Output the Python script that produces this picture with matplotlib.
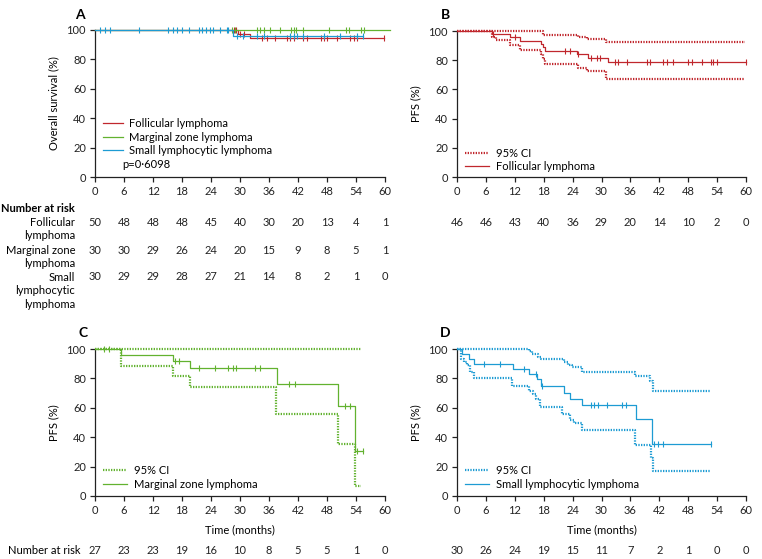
import numpy as np
import matplotlib
matplotlib.use("Agg")
import matplotlib.pyplot as plt

plt.rcParams["font.family"] = ["Lato", "DejaVu Sans"]

W, H = 762, 559
RED, GREEN, BLUE = "#c0272d", "#62b22f", "#1d9bd3"
TICKS = [0, 6, 12, 18, 24, 30, 36, 42, 48, 54, 60]

# --- A: overall survival (event times, survival %, last follow-up, censor times)
os_fl_t = [0, 29.5, 32.0]
os_fl_s = [100, 97.6, 94.6]
os_fl_end = 59.7
os_fl_cens = [28.8, 29.2, 30.1, 30.8, 34.5, 35.6, 37.3, 39.7, 40.4, 41.1, 43.1, 43.8,
              46.7, 47.3, 48.0, 50.0, 52.8, 53.5, 54.2, 59.7]
os_mzl_t = [0]
os_mzl_s = [100]
os_mzl_end = 61.0
os_mzl_cens = [28.3, 29.0, 33.5, 34.2, 34.9, 36.2, 38.3, 40.6, 41.1, 41.6, 43.0, 48.5,
               51.9, 52.6, 55.0, 55.7]
os_sll_t = [0, 28.6]
os_sll_s = [100, 95.6]
os_sll_end = 55.5
os_sll_cens = [1.0, 2.1, 3.0, 9.2, 15.2, 16.1, 17.0, 17.9, 19.5, 21.6, 22.1, 22.9, 23.8,
               24.5, 25.9, 27.3, 27.6, 29.3, 30.7, 33.5, 34.9, 40.4, 41.1, 41.8, 43.1,
               47.3, 50.7, 54.2, 55.5]
risk_groups = ["Follicular\nlymphoma", "Marginal zone\nlymphoma", "Small\nlymphocytic\nlymphoma"]
risk_a_fl = [50, 48, 48, 48, 45, 40, 30, 20, 13, 4, 1]
risk_a_mzl = [30, 30, 29, 26, 24, 20, 15, 9, 8, 5, 1]
risk_a_sll = [30, 29, 29, 28, 27, 21, 14, 8, 2, 1, 0]

# --- B: PFS follicular
pfs_fl_t = [0, 7.2, 11.0, 13.0, 17.4, 17.9, 18.3, 25.0, 27.2, 31.3]
pfs_fl_s = [100, 97.8, 95.6, 93.4, 91.2, 89.0, 86.6, 84.2, 81.8, 78.6]
pfs_fl_end = 60.0
pfs_fl_cens = [7.5, 12.0, 22.4, 23.4, 25.2, 27.9, 29.0, 29.7, 32.8, 33.5, 35.2, 39.4, 40.0,
               42.8, 43.5, 44.9, 48.0, 48.7, 50.8, 52.8, 53.2, 53.9, 60.0]
pfs_fl_hi_t = [0, 17.9, 25.2, 27.0, 31.0]
pfs_fl_hi_s = [100, 97.6, 95.9, 94.2, 92.2]
pfs_fl_lo_t = [0, 7.3, 8.0, 11.0, 13.0, 17.4, 17.9, 18.3, 25.2, 27.0, 31.0]
pfs_fl_lo_s = [100, 96.2, 93.8, 90.4, 86.8, 84.0, 80.6, 77.3, 75.0, 72.4, 67.0]
pfs_fl_ci_end = 59.8
risk_b = [46, 46, 43, 40, 36, 29, 20, 14, 10, 2, 0]

# --- C: PFS marginal zone
pfs_mzl_t = [0, 5.4, 16.2, 19.7, 37.6, 50.3, 53.8]
pfs_mzl_s = [100, 95.6, 91.6, 86.8, 75.9, 60.9, 30.4]
pfs_mzl_end = 55.5
pfs_mzl_cens = [1.9, 2.8, 16.6, 17.4, 21.6, 24.8, 27.6, 28.6, 29.2, 33.1, 34.1, 40.1, 41.4,
                51.7, 52.8, 54.3, 55.5]
pfs_mzl_hi_t = [0]
pfs_mzl_hi_s = [100]
pfs_mzl_lo_t = [0, 5.4, 16.1, 19.7, 37.4, 50.3, 53.7]
pfs_mzl_lo_s = [100, 88.6, 81.4, 73.9, 56.1, 35.7, 6.8]
pfs_mzl_ci_end = 55.0
risk_c = [27, 23, 23, 19, 16, 10, 8, 5, 5, 1, 0]

# --- D: PFS small lymphocytic
pfs_sll_t = [0, 1.0, 2.4, 3.5, 11.7, 14.9, 16.7, 17.4, 22.3, 23.4, 25.9, 37.1, 40.4]
pfs_sll_s = [100, 96.4, 93.2, 89.9, 86.4, 82.9, 79.3, 74.7, 70.3, 66.2, 61.6, 52.3, 35.1]
pfs_sll_end = 52.8
pfs_sll_cens = [5.7, 9.0, 13.9, 16.3, 17.7, 27.9, 28.5, 29.2, 31.1, 34.2, 35.0, 40.9, 41.8,
                42.8, 52.8]
pfs_sll_hi_t = [0, 14.9, 15.6, 16.9, 17.4, 22.3, 23.1, 23.8, 25.9, 36.9, 40.0, 40.6]
pfs_sll_hi_s = [100, 98.4, 96.6, 94.8, 93.2, 90.9, 89.3, 87.5, 84.1, 81.3, 78.4, 71.6]
pfs_sll_lo_t = [0, 0.9, 1.4, 2.0, 2.6, 3.5, 11.5, 14.9, 15.8, 16.5, 17.2, 21.9, 23.4, 24.2,
                25.9, 36.9, 40.2, 40.6]
pfs_sll_lo_s = [100, 93.2, 91.0, 89.3, 84.5, 80.2, 74.5, 71.1, 69.5, 66.0, 60.8, 55.6, 51.5,
                49.9, 44.9, 34.4, 26.0, 17.3]
pfs_sll_ci_end = 52.8
risk_d = [30, 26, 24, 19, 15, 11, 7, 2, 1, 0, 0]

DOT = (0, (0.6, 0.6))
FS = 8
INK = "#222222"


def fx(px):
    return px / W


def fy(py):
    return 1 - py / H


def make_ax(left, top, right, bottom):
    ax = plt.gcf().add_axes([fx(left), fy(bottom), fx(right - left), (bottom - top) / H])
    ax.set_xlim(0, 60)
    ax.set_ylim(0, 100)
    ax.set_xticks(TICKS)
    ax.set_yticks([0, 20, 40, 60, 80, 100])
    for s in ("top", "right"):
        ax.spines[s].set_visible(False)
    for s in ("left", "bottom"):
        ax.spines[s].set_linewidth(0.9)
        ax.spines[s].set_color(INK)
    ax.tick_params(labelsize=FS, length=3.5, width=0.9, pad=3, colors=INK)
    ax.patch.set_visible(False)
    return ax


def km(ax, t, s, end, color, ls="-", lw=0.9, cens=None, label=None, z=3):
    x = list(t) + [end]
    y = list(s) + [s[-1]]
    ax.step(x, y, where="post", color=color, lw=lw, ls=ls, label=label,
            clip_on=False, zorder=z)
    if cens:
        idx = np.searchsorted(t, cens, side="right") - 1
        ax.plot(cens, np.array(s)[idx], ls="none", marker="|", ms=5, mew=0.8,
                color=color, clip_on=False, zorder=z)


def risk_row(ax, values, ypx, top, bottom):
    for xv, v in zip(TICKS, values):
        ax.text(xv, -(ypx - bottom) / (bottom - top), str(v),
                transform=ax.get_xaxis_transform(), ha="center", va="center",
                fontsize=FS, color=INK, clip_on=False)


def legend(ax, y0, hl=2.2):
    ax.legend(loc="lower left", bbox_to_anchor=(0.0, y0), frameon=False, fontsize=FS,
              handlelength=hl, handletextpad=0.6, labelspacing=0.22, borderaxespad=0.3)


fig = plt.figure(figsize=(W / 100, H / 100), dpi=100)

# ---------------- A
axA = make_ax(95, 30, 385, 177)
km(axA, os_fl_t, os_fl_s, os_fl_end, RED, cens=os_fl_cens, label="Follicular lymphoma", z=3)
km(axA, os_mzl_t, os_mzl_s, os_mzl_end, GREEN, cens=os_mzl_cens, label="Marginal zone lymphoma", z=3)
km(axA, os_sll_t, os_sll_s, os_sll_end, BLUE, cens=os_sll_cens, label="Small lymphocytic lymphoma", z=4)
axA.set_ylabel("Overall survival (%)", fontsize=FS, labelpad=5)
legend(axA, 0.09, hl=1.8)
axA.text(0.093, 0.085, "p=0·6098", transform=axA.transAxes, fontsize=FS, va="center")
fig.text(fx(80), fy(15), "A", fontsize=10, fontweight="bold", ha="center", va="center")
fig.text(fx(75), fy(208), "Number at risk", fontsize=FS, fontweight="bold", ha="right", va="center")
for lab, ypx in zip(risk_groups, [222, 250, 277]):
    fig.text(fx(75), fy(ypx - 5), lab, fontsize=FS, ha="right", va="top", linespacing=1.25)
for vals, ypx in zip([risk_a_fl, risk_a_mzl, risk_a_sll], [222, 250, 277]):
    risk_row(axA, vals, ypx, 30, 177)

# ---------------- B
axB = make_ax(457, 31, 746, 177)
km(axB, pfs_fl_hi_t, pfs_fl_hi_s, pfs_fl_ci_end, RED, ls=DOT, lw=1.6, label="95% CI")
km(axB, pfs_fl_lo_t, pfs_fl_lo_s, pfs_fl_ci_end, RED, ls=DOT, lw=1.6)
km(axB, pfs_fl_t, pfs_fl_s, pfs_fl_end, RED, cens=pfs_fl_cens, label="Follicular lymphoma")
axB.set_ylabel("PFS (%)", fontsize=FS, labelpad=5)
legend(axB, -0.02)
fig.text(fx(445), fy(15), "B", fontsize=10, fontweight="bold", ha="center", va="center")
risk_row(axB, risk_b, 222, 31, 177)

# ---------------- C
axC = make_ax(95, 349, 385, 496)
km(axC, pfs_mzl_hi_t, pfs_mzl_hi_s, pfs_mzl_ci_end, GREEN, ls=DOT, lw=1.6, label="95% CI")
km(axC, pfs_mzl_lo_t, pfs_mzl_lo_s, pfs_mzl_ci_end, GREEN, ls=DOT, lw=1.6)
km(axC, pfs_mzl_t, pfs_mzl_s, pfs_mzl_end, GREEN, cens=pfs_mzl_cens, label="Marginal zone lymphoma")
axC.set_ylabel("PFS (%)", fontsize=FS, labelpad=5)
axC.set_xlabel("Time (months)", fontsize=FS, labelpad=6)
legend(axC, -0.01)
fig.text(fx(83), fy(333), "C", fontsize=10, fontweight="bold", ha="center", va="center")
fig.text(fx(8), fy(550), "Number at risk", fontsize=FS, ha="left", va="center")
risk_row(axC, risk_c, 550, 349, 496)

# ---------------- D
axD = make_ax(457, 349, 746, 496)
km(axD, pfs_sll_hi_t, pfs_sll_hi_s, pfs_sll_ci_end, BLUE, ls=DOT, lw=1.6, label="95% CI")
km(axD, pfs_sll_lo_t, pfs_sll_lo_s, pfs_sll_ci_end, BLUE, ls=DOT, lw=1.6)
km(axD, pfs_sll_t, pfs_sll_s, pfs_sll_end, BLUE, cens=pfs_sll_cens, label="Small lymphocytic lymphoma")
axD.set_ylabel("PFS (%)", fontsize=FS, labelpad=5)
axD.set_xlabel("Time (months)", fontsize=FS, labelpad=6)
legend(axD, -0.01)
fig.text(fx(445), fy(333), "D", fontsize=10, fontweight="bold", ha="center", va="center")
risk_row(axD, risk_d, 550, 349, 496)

fig.savefig("out.png", dpi=100)
